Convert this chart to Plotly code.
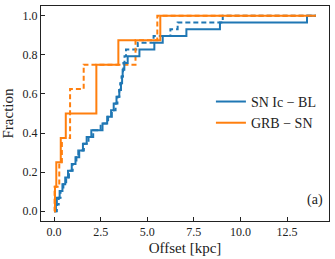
import numpy as np
import plotly.graph_objects as go

# Offsets [kpc] (sorted samples, step ECDFs)
snicbl_solid = [0.10, 0.15, 0.30, 0.45, 0.60, 0.75, 0.95, 1.15, 1.35, 1.55,
                1.75, 2.00, 2.60, 2.85, 3.06, 3.20, 3.35, 3.50, 3.59, 3.65,
                3.68, 3.77, 3.95, 4.58, 5.38, 5.83, 7.10, 8.90, 13.57]
snicbl_dashed = [0.15, 0.25, 0.35, 0.50, 0.65, 0.80, 1.00, 1.20, 1.30, 1.60,
                 1.85, 2.10, 2.50, 2.90, 3.10, 3.30, 3.40, 3.50, 3.55, 3.62,
                 3.70, 3.72, 3.78, 3.86, 4.49, 5.34, 6.24, 6.63, 9.05]
grbsn_solid = [0.05, 0.12, 0.36, 0.63, 2.27, 2.27, 3.45, 5.70]
grbsn_dashed = [0.03, 0.28, 0.42, 0.86, 0.86, 1.59, 4.37, 5.54]
x_end = 14.05

x_ticks = [0, 2.5, 5, 7.5, 10, 12.5]
y_ticks = [0, 0.2, 0.4, 0.6, 0.8, 1.0]

BLUE = "#1f77b4"
ORANGE = "#ff7f0e"
FONT = "Liberation Serif"


def ecdf(vals):
    v = sorted(vals)
    n = len(v)
    xs = [0.0] + v + [x_end]
    ys = [0.0] + [(i + 1) / n for i in range(n)] + [1.0]
    return xs, ys


fig = go.Figure()
series = [
    (snicbl_dashed, BLUE, "dash", "SN Ic − BL", False),
    (grbsn_dashed, ORANGE, "dash", "GRB − SN", False),
    (snicbl_solid, BLUE, "solid", "SN Ic − BL", True),
    (grbsn_solid, ORANGE, "solid", "GRB − SN", True),
]
for vals, col, dash, name, show in series:
    xs, ys = ecdf(vals)
    fig.add_trace(go.Scatter(
        x=xs, y=ys, mode="lines", line_shape="hv", name=name,
        showlegend=show,
        line=dict(color=col, width=2, dash="5px,3px" if dash == "dash" else "solid"),
    ))

axis_common = dict(
    showline=True, linecolor="#222222", linewidth=1, mirror=True,
    ticks="inside", ticklen=4, tickwidth=1, tickcolor="#222222",
    showgrid=False, zeroline=False,
    tickfont=dict(family=FONT, size=12, color="#222222"),
)
fig.update_xaxes(range=[-0.70, 14.75], tickvals=x_ticks,
                 ticktext=[f"{t:.1f}" for t in x_ticks],
                 title=dict(text="Offset [kpc]", standoff=4,
                            font=dict(family=FONT, size=15, color="#222222")),
                 **axis_common)
fig.update_yaxes(range=[-0.05, 1.05], tickvals=y_ticks,
                 ticktext=[f"{t:.1f}" for t in y_ticks],
                 title=dict(text="Fraction", standoff=6,
                            font=dict(family=FONT, size=15, color="#222222")),
                 **axis_common)

fig.add_annotation(text="(a)", x=0.985, y=0.1, xref="paper", yref="paper",
                   xanchor="right", yanchor="middle", showarrow=False,
                   font=dict(family=FONT, size=14, color="#222222"))

fig.update_layout(
    width=335, height=259,
    margin=dict(l=41, r=6, t=5, b=35),
    paper_bgcolor="white", plot_bgcolor="white",
    legend=dict(x=0.59, y=0.505, xanchor="left", yanchor="middle",
                bgcolor="rgba(0,0,0,0)", borderwidth=0,
                font=dict(family=FONT, size=14, color="#222222"),
                tracegroupgap=0, itemwidth=30),
)

fig.write_html("out.html", config={"displayModeBar": False},
               post_script="document.body.style.margin='0';document.body.style.overflow='hidden';")
